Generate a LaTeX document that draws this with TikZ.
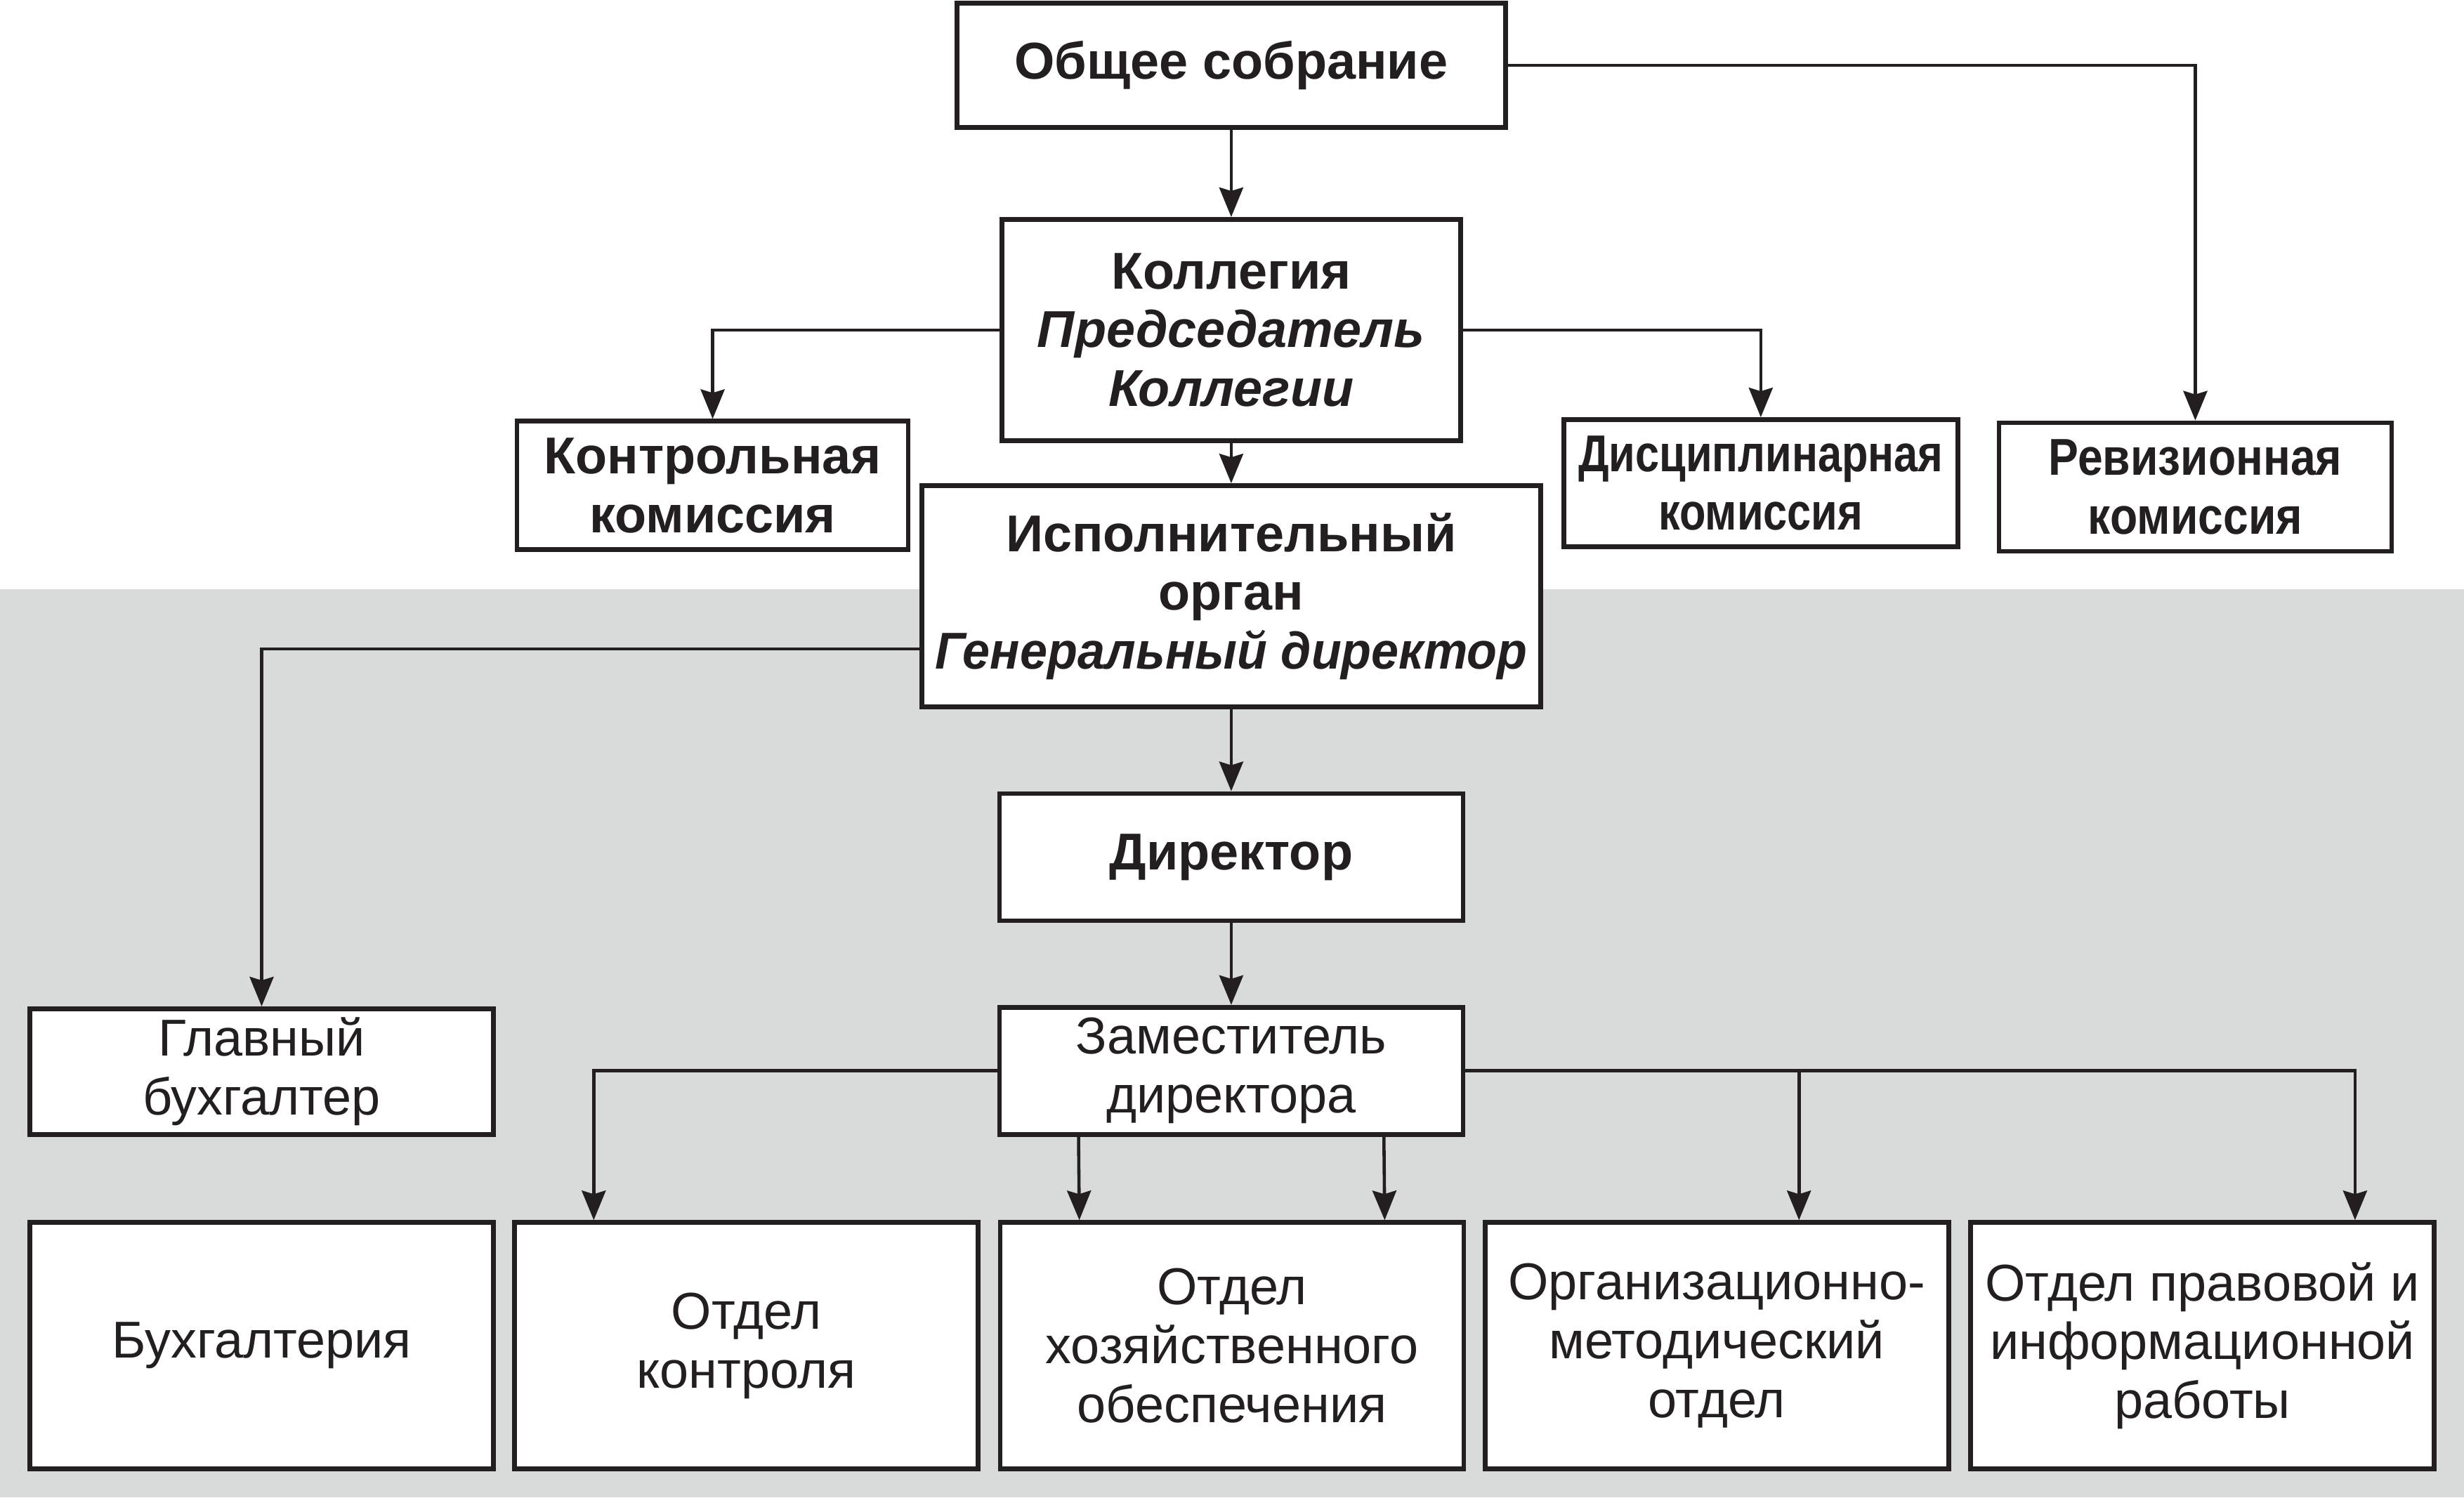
\documentclass[tikz,border=0pt]{standalone}
\usepackage{fontspec}
\setmainfont{Liberation Sans}
\usepackage{graphicx}
\usepackage{xcolor}
\usetikzlibrary{arrows.meta,positioning,calc}
\definecolor{ink}{HTML}{231F20}
\definecolor{band}{HTML}{D9DBDA}
\tikzstyle{unit}=[draw=ink,line width=1.9pt,fill=white,align=center,inner sep=0pt,text=ink,font=\fontsize{21}{23.8}\selectfont]
\tikzstyle{head}=[unit,font=\fontsize{21}{23.8}\selectfont\bfseries]
\newcommand{\squeeze}[2]{\scalebox{#1}[1]{#2}}

\begin{document}
\begin{tikzpicture}[x=0.02237cm,y=-0.02237cm,
link/.style={draw=ink,line width=1.3pt,-{Stealth[length=0.42cm,width=0.34cm,inset=0.05cm]}},
small/.style={minimum width=6.6cm,minimum height=1.81cm},
tall/.style={minimum width=6.6cm,minimum height=3.51cm}]
\useasboundingbox (0,0) rectangle (1568,953);
\fill[band] (0,375) rectangle (1568,953);
\node (obs) at (783.5,41.5)[head,minimum width=7.81cm,minimum height=1.77cm] {Общее собрание};
\node (kol) at (783.5,210)[head,minimum width=6.53cm,minimum height=3.15cm] {Коллегия\\\textit{Председатель}\\\textit{Коллегии}};
\node (kontr) at (453.5,309)[head,minimum width=5.57cm,minimum height=1.83cm] {Контрольная\\комиссия};
\node (disc) at (1120.5,307.5)[head,minimum width=5.61cm,minimum height=1.81cm] {\squeeze{0.83}{Дисциплинарная}\\\squeeze{0.83}{комиссия}};
\node (rev) at (1397,310)[head,minimum width=5.59cm,minimum height=1.83cm] {\squeeze{0.87}{Ревизионная}\\\squeeze{0.87}{комиссия}};
\node (isp) at (783.5,379.5)[head,minimum width=8.81cm,minimum height=3.15cm] {Исполнительный\\орган\\\squeeze{0.95}{\itshape Генеральный директор}};
\node (dir) at (783.5,545.5)[head,small] {Директор};
\node (glb) at (166.5,682)[unit,minimum width=6.6cm,minimum height=1.79cm] {Главный\\бухгалтер};
\node (zam) at (783.5,681.5)[unit,small] {Заместитель\\директора};
\node (buh) at (166.5,856.5)[unit,tall] {Бухгалтерия};
\node (otk) at (475,856.5)[unit,tall] {Отдел\\контроля};
\node (ohz) at (784,856.5)[unit,tall] {Отдел\\хозяйственного\\обеспечения};
\node (org) at (1092.5,856.5)[unit,tall] {Организационно-\\методический\\отдел};
\node (prav) at (1401.5,856.5)[unit,tall] {Отдел правовой и\\информационной\\работы};
\draw[link] (obs) -- (kol);
\draw[link] (obs.east) -| (rev);
\draw[link] (kol.west) -| (kontr);
\draw[link] (kol.east) -| (disc);
\draw[link] (kol) -- (isp);
\draw[link] ([yshift=-0.75cm]isp.west) -| (glb);
\draw[link] (isp) -- (dir);
\draw[link] (dir) -- (zam);
\draw[link] (zam.west) -| ([xshift=1.16cm]otk.north west);
\draw[link] ([xshift=1.16cm]zam.south west) -- ([xshift=1.16cm]ohz.north west);
\draw[link] ([xshift=-1.16cm]zam.south east) -- ([xshift=-1.16cm]ohz.north east);
\draw[link] (zam.east) -| ([xshift=1.17cm]org.north);
\draw[link] (zam.east) -| ([xshift=-1.16cm]prav.north east);
\end{tikzpicture}
\end{document}
